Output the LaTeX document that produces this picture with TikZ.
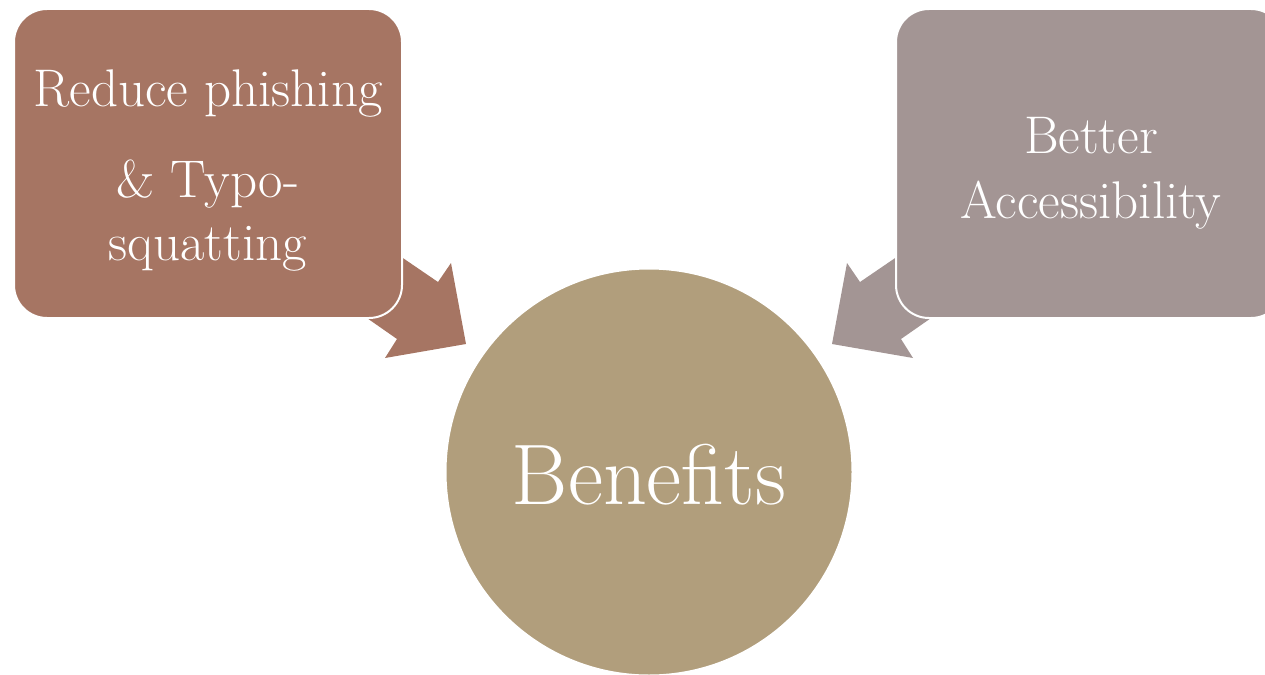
\documentclass[tikz,border=0pt]{standalone}
\usepackage{fontspec}
\definecolor{phish}{HTML}{A67563}
\definecolor{access}{HTML}{A39594}
\definecolor{benefit}{HTML}{B19E7C}
\tikzset{
  box/.style={rectangle, rounded corners=33pt, minimum width=388pt,
    minimum height=309pt, draw=white, line width=2pt},
  boxtext/.style={text=white, align=center, anchor=base,
    font={\fontsize{53}{63}\selectfont}}
}

\begin{document}
\begin{tikzpicture}[x=1pt, y=-1pt]
\useasboundingbox (0,0) rectangle (1265,674);
\clip (0,0) rectangle (1265,674);
% block arrows, under the boxes
\path[fill = phish]  (353,224)--(438,282)--(451,263)--(466,344)--(385,358)--(397,339)--(321,286)--cycle;
\path[fill = access] (945,224)--(860,282)--(847,263)--(832,344)--(913,358)--(901,339)--(977,286)--cycle;
% boxes
\node[box, fill = phish]  (phish)  at (208,163.5) {};
\node[box, fill = access] (access) at (1090,163.5) {};
\node[boxtext] (phishtext)  at (208,260) {Reduce phishing\\[28pt]\& Typo-\\squatting};
\node[boxtext] (accesstext) at (1091,218) {Better\\[2pt]Accessibility};
% centre
\node[circle, fill = benefit, draw = white, line width = 2pt, minimum size = 407pt,
  inner sep = 0pt, text = white, text height = 66pt,
  font = {\fontsize{86}{96}\selectfont}] (benefits) at (649,472) {Benefits};
\end{tikzpicture}
\end{document}
